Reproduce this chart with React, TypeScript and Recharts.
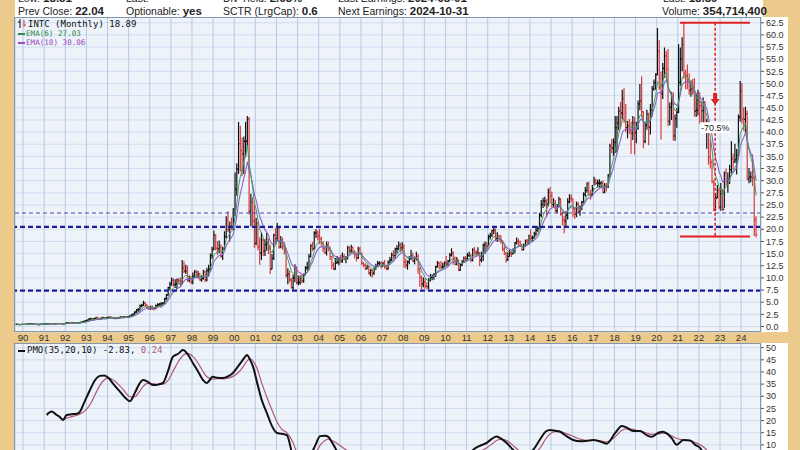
import React from "react";
import {
  ComposedChart,
  Bar,
  Line,
  XAxis,
  YAxis,
  CartesianGrid,
  ReferenceLine,
  ReferenceDot,
} from "recharts";

// monthly bars, Sep 1989 .. Sep 2024 (dividend adjusted)
const START_YEAR = 1989;
const START_MONTH = 9;

const closes = [
  0.44, 0.40, 0.41, 0.43,
  0.42, 0.44, 0.48, 0.52, 0.56, 0.58, 0.54, 0.44, 0.40, 0.43, 0.45, 0.47,
  0.52, 0.56, 0.58, 0.60, 0.57, 0.53, 0.57, 0.62, 0.60, 0.57, 0.55, 0.62,
  0.72, 0.78, 0.74, 0.70, 0.78, 0.80, 0.76, 0.80, 0.84, 0.92, 1.04, 1.20,
  1.30, 1.55, 1.60, 1.58, 1.62, 1.85, 1.60, 1.55, 1.72, 1.80, 1.72, 1.76,
  1.86, 1.90, 1.82, 1.68, 1.80, 1.68, 1.84, 1.96, 1.92, 1.98, 1.92, 2.02,
  2.10, 2.30, 2.55, 2.95, 3.40, 3.45, 4.20, 4.35, 4.80, 4.40, 3.95, 3.80,
  3.90, 3.80, 3.70, 4.30, 4.50, 4.60, 4.70, 4.80, 5.70, 6.50, 8.00, 8.70,
  9.50, 8.60, 8.70, 9.60, 9.40, 8.80, 12.0, 11.4, 11.5, 9.60, 9.70, 9.20,
  10.3, 11.2, 10.4, 10.8, 9.60, 9.90, 11.3, 9.60, 11.5, 11.8, 14.6, 15.9,
  18.8, 16.1, 16.0, 16.3, 14.5, 16.0, 18.5, 22.0, 19.9, 20.7, 20.5, 22.0,
  28.2, 32.4, 37.6, 36.2, 35.5, 38.1, 38.1, 42.7, 23.7, 25.6, 21.7, 17.1,
  21.3, 16.4, 15.1, 17.8, 15.5, 16.8, 17.1, 16.1, 11.8, 14.0, 18.8, 18.1,
  20.2, 16.4, 17.5, 16.5, 15.9, 10.5, 10.8, 9.60, 8.00, 10.0, 12.0, 9.00,
  9.10, 10.0, 9.40, 10.7, 12.1, 12.1, 14.4, 16.6, 16.0, 19.2, 19.4, 18.6,
  18.0, 17.2, 16.0, 15.2, 16.8, 16.3, 14.4, 12.6, 11.8, 13.1, 13.2, 13.8,
  13.5, 14.4, 13.9, 14.1, 16.2, 15.6, 16.3, 15.4, 14.8, 14.1, 16.0, 15.0,
  13.0, 12.6, 11.9, 12.2, 11.0, 11.6, 11.0, 11.9, 12.5, 13.0, 13.0, 12.4,
  13.0, 12.3, 11.9, 13.3, 13.7, 14.7, 14.6, 16.0, 16.0, 16.7, 16.2, 16.5,
  13.3, 12.6, 13.3, 14.0, 14.6, 13.5, 14.0, 14.4, 11.8, 10.1, 8.70, 9.20,
  8.30, 8.20, 9.60, 10.1, 10.1, 10.6, 12.3, 13.0, 12.5, 12.2, 12.3, 13.1,
  12.8, 13.5, 14.7, 15.1, 14.1, 12.8, 13.6, 11.6, 12.7, 13.2, 14.0, 13.9,
  14.6, 14.6, 13.7, 15.8, 15.3, 15.1, 15.2, 13.7, 14.5, 16.7, 16.9, 16.5,
  18.5, 18.8, 19.7, 19.9, 18.1, 18.7, 18.0, 17.4, 15.9, 15.1, 13.7, 14.4,
  15.1, 15.0, 15.7, 17.2, 17.5, 17.4, 16.8, 15.8, 16.5, 17.6, 17.2, 18.7,
  18.2, 18.3, 19.1, 19.8, 20.2, 22.9, 25.1, 25.8, 25.8, 25.2, 27.6, 26.9,
  25.1, 25.3, 23.8, 24.7, 26.2, 23.1, 22.0, 21.7, 22.9, 25.7, 26.4, 26.2,
  24.2, 23.1, 25.2, 23.6, 24.6, 25.6, 27.2, 28.0, 29.4, 27.2, 27.1, 28.3,
  30.0, 29.5, 29.5, 29.5, 29.5, 27.6, 29.0, 28.7, 31.2, 37.2, 36.7, 37.9,
  40.9, 41.9, 44.3, 43.9, 46.9, 42.3, 40.9, 41.2, 40.2, 39.8, 41.9, 39.9,
  40.8, 45.8, 46.4, 44.2, 38.1, 41.4, 43.7, 41.0, 44.6, 48.9, 50.2, 51.8,
  56.6, 49.1, 47.9, 53.1, 55.7, 52.9, 42.2, 45.1, 45.8, 39.2, 42.8, 44.1,
  50.2, 55.0, 57.9, 52.1, 51.7, 50.8, 48.6, 48.9, 48.2, 44.3, 44.5, 46.6,
  45.4, 44.4, 46.1, 40.5, 41.3, 34.8, 33.8, 29.7, 24.0, 26.4, 28.0, 24.6,
  27.3, 24.1, 31.5, 30.0, 30.3, 32.3, 34.5, 33.9, 34.3, 35.2, 43.1, 48.5,
  42.7, 42.6, 43.8, 30.3, 30.7, 30.8, 30.6, 22.0, 18.9,
];

const highs = [
  0.47, 0.45, 0.43, 0.45,
  0.45, 0.46, 0.50, 0.54, 0.58, 0.61, 0.60, 0.55, 0.46, 0.45, 0.48, 0.50,
  0.54, 0.59, 0.61, 0.63, 0.62, 0.58, 0.59, 0.64, 0.64, 0.62, 0.59, 0.64,
  0.75, 0.81, 0.80, 0.76, 0.80, 0.84, 0.81, 0.82, 0.87, 0.95, 1.07, 1.24,
  1.35, 1.60, 1.70, 1.65, 1.70, 1.92, 1.88, 1.70, 1.80, 1.90, 1.85, 1.82,
  1.95, 1.98, 1.94, 1.85, 1.86, 1.85, 1.88, 2.02, 2.05, 2.05, 2.02, 2.08,
  2.20, 2.40, 2.60, 3.05, 3.50, 3.70, 4.40, 4.60, 5.20, 4.95, 4.50, 4.10,
  4.20, 4.20, 3.95, 4.45, 4.70, 4.75, 4.90, 4.95, 5.80, 6.60, 8.10, 9.10,
  10.0, 9.80, 9.60, 9.80, 9.90, 10.0, 13.6, 13.3, 12.6, 12.4, 10.4, 10.3,
  11.0, 11.5, 11.6, 11.3, 10.9, 10.4, 11.6, 11.4, 12.0, 12.6, 14.9, 16.3,
  19.6, 18.9, 17.5, 17.6, 16.8, 16.3, 19.5, 22.6, 23.6, 21.5, 22.3, 24.3,
  31.6, 33.5, 42.0, 41.2, 38.8, 39.0, 42.0, 43.2, 43.0, 27.2, 26.5, 25.2,
  22.2, 21.4, 18.2, 19.3, 18.0, 17.8, 19.2, 18.0, 16.6, 14.8, 19.0, 20.1,
  21.2, 20.3, 18.5, 18.2, 17.3, 16.0, 11.9, 11.4, 9.90, 10.6, 12.7, 12.3,
  10.4, 10.4, 10.5, 10.8, 12.3, 13.2, 14.8, 16.8, 17.3, 19.5, 19.9, 19.6,
  20.0, 18.4, 17.5, 16.4, 17.4, 17.4, 16.3, 14.4, 13.1, 14.0, 14.4, 14.2,
  14.6, 15.1, 14.8, 14.4, 16.5, 16.4, 16.7, 16.3, 15.6, 15.1, 16.3, 16.3,
  15.2, 13.2, 12.9, 12.6, 12.4, 11.7, 11.6, 12.1, 12.8, 13.4, 13.3, 13.3,
  13.2, 13.6, 12.6, 13.5, 14.2, 15.1, 15.6, 16.1, 16.6, 17.4, 17.1, 17.3,
  16.8, 13.9, 13.5, 14.4, 15.7, 15.1, 14.3, 15.3, 14.8, 12.1, 10.4, 10.0,
  9.80, 9.00, 9.90, 10.7, 10.6, 10.9, 12.4, 13.4, 13.2, 13.4, 13.0, 13.3,
  14.4, 13.6, 15.0, 16.0, 15.4, 14.3, 14.2, 13.7, 12.9, 13.6, 14.3, 14.4,
  15.0, 15.3, 14.8, 16.0, 16.3, 15.6, 16.2, 15.2, 15.3, 17.0, 17.4, 17.3,
  18.8, 19.2, 19.8, 20.3, 20.0, 19.3, 18.8, 18.7, 17.7, 16.4, 15.3, 15.2,
  15.7, 15.4, 16.0, 17.3, 18.2, 18.0, 17.6, 16.8, 17.0, 17.8, 17.9, 18.8,
  19.8, 18.6, 19.4, 20.2, 20.5, 23.3, 25.9, 26.4, 26.6, 26.1, 28.3, 28.6,
  27.6, 26.3, 25.9, 25.1, 26.6, 26.3, 23.5, 22.7, 23.6, 26.3, 27.1, 27.1,
  26.3, 24.3, 25.6, 25.5, 24.8, 25.7, 27.5, 28.6, 29.6, 29.7, 28.0, 29.0,
  30.7, 30.3, 30.1, 30.2, 29.8, 30.0, 29.4, 29.4, 31.3, 37.5, 38.4, 38.6,
  43.2, 43.2, 45.1, 46.1, 48.6, 49.0, 45.7, 42.2, 42.6, 42.1, 43.2, 43.0,
  42.0, 46.4, 49.8, 51.4, 44.2, 42.1, 44.5, 43.9, 45.7, 49.4, 50.7, 52.0,
  61.3, 58.8, 52.3, 54.1, 57.3, 56.6, 57.0, 46.0, 48.2, 48.1, 43.5, 44.8,
  58.0, 57.3, 59.4, 62.4, 52.7, 53.8, 52.0, 50.5, 50.8, 51.0, 47.9, 48.6,
  48.1, 46.3, 47.0, 46.3, 42.6, 42.1, 38.4, 34.3, 30.1, 27.3, 29.0, 28.4,
  29.4, 28.2, 31.8, 32.4, 31.6, 33.2, 38.0, 35.5, 37.5, 36.4, 43.5, 50.4,
  50.0, 45.0, 45.1, 44.3, 32.5, 31.8, 35.3, 30.9, 22.6,
];

const lows = [
  0.42, 0.38, 0.38, 0.40,
  0.39, 0.41, 0.43, 0.47, 0.51, 0.55, 0.52, 0.42, 0.37, 0.38, 0.42, 0.44,
  0.46, 0.51, 0.54, 0.56, 0.54, 0.51, 0.52, 0.56, 0.57, 0.54, 0.51, 0.53,
  0.61, 0.71, 0.72, 0.68, 0.69, 0.76, 0.72, 0.74, 0.78, 0.82, 0.90, 1.02,
  1.15, 1.28, 1.48, 1.45, 1.52, 1.60, 1.50, 1.45, 1.50, 1.65, 1.62, 1.64,
  1.72, 1.80, 1.72, 1.62, 1.62, 1.62, 1.64, 1.80, 1.80, 1.82, 1.84, 1.86,
  1.95, 2.05, 2.25, 2.50, 2.90, 3.10, 3.40, 4.00, 4.30, 4.10, 3.80, 3.50,
  3.50, 3.50, 3.40, 3.65, 4.20, 4.30, 4.00, 4.40, 4.70, 5.50, 6.40, 7.50,
  8.50, 8.30, 8.00, 7.80, 8.90, 8.40, 8.80, 11.1, 10.9, 9.30, 9.20, 8.80,
  8.80, 10.1, 10.1, 10.0, 9.50, 9.30, 9.70, 9.20, 9.40, 10.4, 11.6, 14.0,
  15.8, 15.8, 14.8, 15.2, 14.2, 13.8, 15.9, 18.2, 19.5, 17.6, 20.0, 19.9,
  22.8, 27.0, 31.5, 32.0, 31.0, 31.5, 35.0, 36.8, 23.2, 20.7, 20.5, 16.3,
  16.8, 15.8, 12.8, 13.8, 14.6, 14.6, 15.7, 15.0, 10.9, 11.9, 13.8, 17.0,
  17.6, 16.1, 16.2, 15.9, 14.9, 10.2, 8.80, 9.20, 7.90, 7.50, 9.20, 8.80,
  8.60, 8.70, 9.00, 9.10, 10.6, 11.6, 11.8, 14.3, 15.6, 16.0, 18.3, 17.8,
  17.1, 16.7, 15.4, 15.0, 14.7, 15.6, 13.8, 11.9, 11.7, 11.8, 13.0, 12.7,
  13.1, 13.2, 13.7, 13.1, 13.9, 15.2, 15.2, 15.2, 14.1, 13.5, 14.0, 14.8,
  12.7, 12.3, 11.8, 11.9, 10.8, 10.4, 10.2, 10.7, 11.8, 12.3, 12.5, 12.0,
  12.4, 12.0, 11.7, 11.8, 13.1, 13.6, 13.9, 14.1, 15.2, 15.8, 15.4, 15.6,
  12.2, 12.1, 11.8, 12.9, 13.8, 13.4, 12.9, 13.7, 10.9, 8.30, 7.80, 8.20,
  7.90, 7.70, 7.70, 9.40, 9.60, 9.70, 10.3, 12.2, 12.0, 12.0, 11.9, 12.3,
  12.5, 12.6, 13.4, 14.5, 12.8, 12.8, 12.7, 11.5, 11.6, 12.5, 13.2, 13.6,
  13.6, 14.4, 13.3, 13.5, 14.9, 14.4, 14.9, 12.5, 13.3, 13.6, 15.0, 15.7,
  16.7, 18.0, 18.5, 19.1, 17.8, 17.5, 17.6, 17.2, 15.6, 14.8, 13.2, 13.6,
  14.5, 14.4, 14.9, 15.2, 17.0, 16.8, 16.7, 15.7, 15.8, 16.5, 16.9, 17.0,
  17.7, 17.6, 18.2, 18.7, 19.6, 20.1, 22.6, 24.5, 24.8, 22.6, 24.8, 25.8,
  24.6, 24.5, 23.7, 23.4, 24.6, 22.9, 20.9, 19.3, 20.8, 22.1, 25.4, 25.6,
  22.7, 22.2, 22.6, 23.4, 22.9, 24.0, 25.3, 26.8, 27.6, 26.9, 26.2, 27.0,
  29.1, 29.2, 28.7, 28.7, 28.6, 27.5, 27.5, 27.9, 28.6, 30.8, 35.8, 35.2,
  35.8, 35.9, 40.5, 40.9, 42.8, 42.0, 40.0, 38.8, 39.7, 35.6, 38.5, 35.5,
  37.8, 40.6, 44.6, 43.2, 36.8, 37.8, 40.6, 37.4, 39.6, 43.3, 48.6, 48.8,
  51.8, 48.8, 38.6, 46.9, 51.3, 51.0, 41.3, 41.5, 42.6, 38.3, 38.3, 41.0,
  44.0, 49.6, 52.6, 51.1, 48.9, 48.9, 47.8, 47.4, 47.8, 43.3, 43.2, 43.5,
  41.8, 41.1, 41.0, 39.9, 36.7, 33.4, 32.6, 29.6, 23.8, 23.9, 26.5, 24.2,
  23.9, 23.9, 24.5, 29.0, 27.6, 29.4, 31.7, 32.3, 33.7, 31.4, 34.7, 42.3,
  41.8, 40.4, 40.0, 30.3, 29.6, 29.8, 29.0, 18.7, 18.4,
];

const yearTicks = [
  1990, 1991, 1992, 1993, 1994, 1995, 1996, 1997, 1998, 1999, 2000, 2001,
  2002, 2003, 2004, 2005, 2006, 2007, 2008, 2009, 2010, 2011, 2012, 2013,
  2014, 2015, 2016, 2017, 2018, 2019, 2020, 2021, 2022, 2023, 2024,
];

const priceTicks = [
  0, 2.5, 5, 7.5, 10, 12.5, 15, 17.5, 20, 22.5, 25, 27.5, 30, 32.5, 35,
  37.5, 40, 42.5, 45, 47.5, 50, 52.5, 55, 57.5, 60, 62.5,
];

// only the part of the PMO scale that is on screen
const pmoTicks = [10, 15, 20, 25, 30, 35, 40, 45, 50];

// PMO(35,20,10)
const pmoDates = [
  1991.12, 1991.35, 1991.59, 1991.75, 1991.9, 1992.06, 1992.3, 1992.55, 1992.7, 1992.9,
  1993.17, 1993.4, 1993.64, 1993.85, 1994.05, 1994.3, 1994.59, 1994.85, 1995.06, 1995.3,
  1995.5, 1995.68, 1995.9, 1996.15, 1996.4, 1996.63, 1996.85, 1997.1, 1997.35, 1997.57,
  1997.8, 1998.04, 1998.3, 1998.5, 1998.7, 1998.99, 1999.2, 1999.46, 1999.7, 1999.94,
  2000.2, 2000.45, 2000.6, 2000.75, 2000.89, 2001.1, 2001.3, 2001.55, 2001.8, 2002.02,
  2002.25, 2002.49, 2002.78, 2003.0, 2003.3, 2003.6, 2003.85, 2004.06, 2004.3, 2004.45,
  2004.68, 2004.9, 2005.2, 2005.5, 2005.8, 2006.2, 2006.6, 2007.0, 2007.5, 2008.0,
  2008.5, 2009.0, 2009.5, 2010.0, 2010.5, 2011.0, 2011.32, 2011.6, 2011.95, 2012.2,
  2012.42, 2012.65, 2012.9, 2013.2, 2013.5, 2013.8, 2014.16, 2014.5, 2014.75, 2014.95,
  2015.2, 2015.43, 2015.75, 2016.05, 2016.4, 2016.69, 2017.0, 2017.32, 2017.63, 2018.03,
  2018.35, 2018.58, 2018.89, 2019.21, 2019.53, 2019.76, 2020.08, 2020.3, 2020.48, 2020.71,
  2020.95, 2021.26, 2021.58, 2021.82, 2022.06, 2022.3, 2022.6, 2022.9, 2023.2, 2023.5,
  2023.9, 2024.2, 2024.5, 2024.71,
];

const pmoValues = [
  22.3, 23.7, 22.3, 21.4, 20.2, 22.3, 22.6, 22.8, 23.7, 27.5,
  32.6, 36.5, 38.4, 38.6, 37.5, 34.8, 31.9, 29.3, 28.0, 31.5,
  35.0, 36.7, 36.0, 34.6, 34.8, 35.5, 40.0, 46.3, 47.5, 49.0,
  47.2, 43.7, 40.0, 37.0, 35.5, 38.0, 37.6, 37.5, 38.2, 39.6,
  42.5, 45.5, 47.0, 45.0, 42.2, 35.0, 28.5, 23.0, 17.5, 14.9,
  14.6, 14.0, 5.0, 0.0, 1.0, 5.5, 10.0, 13.6, 13.8, 13.3,
  10.3, 7.0, 5.0, 6.5, 5.0, 1.0, -2.0, 1.0, 4.0, 3.0,
  -3.0, -10.0, -6.0, 3.0, 4.0, 4.5, 8.0, 9.5, 10.8, 12.5,
  13.4, 12.5, 10.8, 8.0, 6.0, 5.5, 8.0, 12.5, 15.5, 16.1,
  15.8, 15.4, 13.5, 12.0, 11.5, 11.7, 12.0, 11.4, 10.5, 14.8,
  17.8, 17.1, 15.7, 15.7, 14.0, 13.3, 15.0, 15.4, 14.7, 12.8,
  10.0, 12.0, 11.8, 10.0, 8.7, 5.0, 0.0, -4.0, -5.0, -2.0,
  3.0, 4.0, 1.0, -2.83,
];

const pmoSignal = [
  null, null, null, null, 20.6, 21.0, 21.6, 22.2, 22.7, 23.8,
  26.5, 30.5, 34.5, 36.8, 37.6, 36.5, 34.3, 31.6, 29.8, 29.8,
  31.8, 34.0, 35.3, 35.2, 34.9, 35.0, 36.3, 40.2, 44.2, 46.8,
  47.7, 46.4, 43.5, 40.5, 38.0, 37.0, 37.3, 37.2, 37.5, 38.2,
  39.8, 42.5, 44.5, 45.5, 44.5, 41.0, 35.5, 29.5, 24.0, 19.5,
  16.4, 15.0, 11.0, 6.0, 2.5, 3.5, 6.5, 9.8, 11.8, 12.3,
  11.6, 10.4, 8.5, 7.0, 6.0, 4.0, 0.5, 0.0, 2.0, 3.5,
  0.5, -5.0, -7.0, -1.0, 2.5, 3.8, 5.8, 7.0, 8.8, 10.3,
  11.8, 12.3, 11.8, 9.8, 7.5, 6.2, 6.5, 9.0, 12.5, 14.5,
  15.4, 15.4, 14.5, 13.5, 12.3, 11.8, 11.8, 11.7, 11.2, 13.3,
  16.0, 16.6, 16.4, 15.6, 14.9, 14.3, 14.5, 14.8, 14.6, 13.7,
  12.6, 12.1, 11.8, 11.0, 10.0, 8.5, 5.0, 0.5, -3.0, -3.0,
  -0.5, 2.0, 2.0, 0.24,
];

const X_DOMAIN = [1989.62, 2024.94];

function ema(values: number[], n: number) {
  const k = 2 / (n + 1);
  let prev = values[0];
  return values.map((v, i) => {
    if (i > 0) prev = prev + k * (v - prev);
    return prev;
  });
}

const ema6 = ema(closes, 6);
const ema10 = ema(closes, 10);

const priceData = closes.map((close, i) => {
  const m = START_MONTH - 1 + i;
  const year = START_YEAR + Math.floor(m / 12);
  const open = i > 0 ? closes[i - 1] : close;
  return {
    t: year + ((m % 12) + 0.5) / 12,
    range: [lows[i], highs[i]],
    high: highs[i],
    low: lows[i],
    open,
    close,
    up: close >= open,
    ema6: ema6[i],
    ema10: ema10[i],
  };
});

const pmoData = pmoDates.map((t, i) => ({ t, pmo: pmoValues[i], sig: pmoSignal[i] }));

const TAN = "#ecca8c";
const PLOT_BG = "#eef3fa";
const MONO = "'DejaVu Sans Mono', monospace";
const SANS = "'Liberation Sans', Arial, sans-serif";

const OhlcBar = (props: any) => {
  const { x, y, width, height, payload } = props;
  if (x == null || y == null || !payload) return null;
  const cx = x + width / 2;
  const top = Math.min(y, y + height);
  const bot = Math.max(y, y + height);
  const span = payload.high - payload.low || 1;
  const px = (v: number) => top + ((payload.high - v) / span) * (bot - top);
  const color = payload.up ? "#111111" : "#d63c3c";
  return (
    <g stroke={color} strokeWidth={1.2}>
      <line x1={cx} x2={cx} y1={top - 0.5} y2={bot + 0.5} />
      <line x1={cx - 1.3} x2={cx} y1={px(payload.open)} y2={px(payload.open)} />
      <line x1={cx} x2={cx + 1.3} y1={px(payload.close)} y2={px(payload.close)} />
    </g>
  );
};

const DownArrow = (props: any) => {
  const { cx, cy } = props;
  if (cx == null) return null;
  return (
    <path
      d={`M${cx - 2} ${cy - 7} L${cx + 2} ${cy - 7} L${cx + 2} ${cy - 1} L${cx + 4.5} ${cy - 1} L${cx} ${cy + 5} L${cx - 4.5} ${cy - 1} L${cx - 2} ${cy - 1} Z`}
      fill="#e02020"
    />
  );
};

const DropLabel = (props: any) => {
  const { cx, cy } = props;
  if (cx == null) return null;
  return (
    <g>
      <rect x={cx - 15} y={cy - 6} width={30} height={11} fill="#ffffff" />
      <text x={cx} y={cy + 3} textAnchor="middle" fontSize={9} fontFamily={SANS} fill="#222">
        -70.5%
      </text>
    </g>
  );
};

const rightTick = { fontSize: 9, fill: "#333", fontFamily: SANS };

function HeaderItem({ left, top, label, value }: { left: number; top: number; label: string; value?: string }) {
  return (
    <div style={{ position: "absolute", left, top, fontFamily: SANS, fontSize: 10.5, color: "#222", whiteSpace: "nowrap", lineHeight: "12px" }}>
      {label}
      {value ? <b style={{ fontSize: 11.5 }}>{value}</b> : null}
    </div>
  );
}

export default function App() {
  return (
    <div style={{ position: "fixed", left: 0, top: 0, width: 800, height: 450, overflow: "hidden", background: TAN }}>
      {/* header, first row is cut off at the top edge as in the source */}
      <div style={{ position: "absolute", left: 15, top: 0, width: 748, height: 17, background: "#fff" }} />
      <HeaderItem left={18} top={-8} label="Low: " value="18.51" />
      <HeaderItem left={126} top={-8} label="Last: " />
      <HeaderItem left={223} top={-8} label="Div Yield: " value="2.65%" />
      <HeaderItem left={338} top={-8} label="Last Earnings: " value="2024-08-01" />
      <HeaderItem left={663} top={-8} label="Last: " value="      18.89" />
      <HeaderItem left={18} top={5} label="Prev Close: " value="22.04" />
      <HeaderItem left={126} top={5} label="Optionable: " value="yes" />
      <HeaderItem left={223} top={5} label="SCTR (LrgCap): " value="0.6" />
      <HeaderItem left={338} top={5} label="Next Earnings: " value="2024-10-31" />
      <HeaderItem left={662} top={5} label="Volume: " value="354,714,400" />

      {/* white label strips on the right */}
      <div style={{ position: "absolute", left: 761, top: 17, width: 27, height: 315, background: "#fff" }} />
      <div style={{ position: "absolute", left: 761, top: 343, width: 27, height: 107, background: "#fff" }} />

      <div style={{ position: "absolute", left: 0, top: 17 }}>
        <ComposedChart width={800} height={326} data={priceData} margin={{ top: 0, right: 0, bottom: 0, left: 15 }}>
          <CartesianGrid vertical={false} stroke="#cfddef" fill={PLOT_BG} />
          <CartesianGrid horizontal={false} stroke="#b3cbe6" />
          <XAxis
            type="number"
            dataKey="t"
            domain={X_DOMAIN}
            allowDataOverflow
            ticks={yearTicks}
            interval={0}
            height={11}
            axisLine={false}
            tickLine={false}
            tickSize={0}
            tickMargin={2}
            tick={{ fontSize: 9.5, fill: "#333", fontFamily: SANS }}
            tickFormatter={(v: number) => String(v % 100).padStart(2, "0")}
          />
          <YAxis
            orientation="right"
            type="number"
            domain={[-1.13, 63.68]}
            allowDataOverflow
            ticks={priceTicks}
            interval={0}
            width={39}
            axisLine={false}
            tickSize={3}
            tickMargin={2}
            tickLine={{ stroke: "#555" }}
            tick={rightTick}
            tickFormatter={(v: number) => v.toFixed(1)}
          />
          <Bar dataKey="range" barSize={2} shape={<OhlcBar />} isAnimationActive={false} />
          <Line dataKey="ema10" type="linear" stroke="#8d5fc9" strokeWidth={1.1} dot={false} isAnimationActive={false} />
          <Line dataKey="ema6" type="linear" stroke="#3f9d5c" strokeWidth={1} dot={false} isAnimationActive={false} />
          <ReferenceLine y={23.35} stroke="#4d4da8" strokeWidth={1.2} strokeDasharray="4 3" />
          <ReferenceLine y={20.5} stroke="#1c1ca0" strokeWidth={2.2} strokeDasharray="5 3" />
          <ReferenceLine y={7.4} stroke="#1c1ca0" strokeWidth={2.2} strokeDasharray="5 3" />
          <ReferenceLine segment={[{ x: 2021.1, y: 62.5 }, { x: 2024.42, y: 62.5 }]} stroke="#e02020" strokeWidth={2} />
          <ReferenceLine segment={[{ x: 2021.1, y: 18.5 }, { x: 2024.42, y: 18.5 }]} stroke="#e02020" strokeWidth={2} />
          <ReferenceLine segment={[{ x: 2022.77, y: 62.5 }, { x: 2022.77, y: 18.5 }]} stroke="#e02020" strokeWidth={1.5} strokeDasharray="3 2" />
          <ReferenceDot x={2022.77} y={46.6} r={1} shape={<DownArrow />} />
          <ReferenceDot x={2022.77} y={40.8} r={1} shape={<DropLabel />} />
        </ComposedChart>
      </div>

      {/* plot borders */}
      <div style={{ position: "absolute", left: 14, top: 17, width: 747, height: 315, border: "1px solid #8696ad", boxSizing: "border-box", pointerEvents: "none" }} />

      {/* price legend */}
      <div style={{ position: "absolute", left: 18, top: 19, fontFamily: MONO, fontSize: 9, lineHeight: "10px", color: "#111", whiteSpace: "nowrap" }}>
        <svg width={8} height={9} style={{ verticalAlign: "-1px", marginRight: 2 }}>
          <line x1={2} x2={2} y1={0} y2={9} stroke="#111" strokeWidth={1} />
          <line x1={0} x2={2} y1={3} y2={3} stroke="#111" />
          <line x1={6} x2={6} y1={1} y2={8} stroke="#d63c3c" strokeWidth={1} />
          <line x1={6} x2={8} y1={6} y2={6} stroke="#d63c3c" />
        </svg>
        INTC (Monthly) 18.89
      </div>
      <div style={{ position: "absolute", left: 18, top: 29, fontFamily: MONO, fontSize: 7.6, lineHeight: "10px", color: "#2e8a45", whiteSpace: "nowrap" }}>
        <span style={{ display: "inline-block", width: 7, height: 2, background: "#2e8a45", verticalAlign: "middle", marginRight: 1 }} />
        EMA(6) 27.03
      </div>
      <div style={{ position: "absolute", left: 18, top: 38, fontFamily: MONO, fontSize: 7.6, lineHeight: "10px", color: "#a048c0", whiteSpace: "nowrap" }}>
        <span style={{ display: "inline-block", width: 7, height: 2, background: "#a048c0", verticalAlign: "middle", marginRight: 1 }} />
        EMA(10) 30.06
      </div>

      {/* PMO panel, runs past the bottom edge like the source */}
      <div style={{ position: "absolute", left: 0, top: 343 }}>
        <ComposedChart width={800} height={200} data={pmoData} margin={{ top: 0, right: 0, bottom: 0, left: 15 }}>
          <CartesianGrid vertical={false} stroke="#cfddef" fill={PLOT_BG} />
          <CartesianGrid horizontal={false} stroke="#b3cbe6" />
          <XAxis type="number" dataKey="t" domain={X_DOMAIN} allowDataOverflow ticks={yearTicks} interval={0} hide />
          <YAxis
            orientation="right"
            type="number"
            domain={[-30.4, 51.93]}
            allowDataOverflow
            ticks={pmoTicks}
            interval={0}
            width={39}
            axisLine={false}
            tickSize={3}
            tickMargin={2}
            tickLine={{ stroke: "#555" }}
            tick={rightTick}
          />
          <Line dataKey="sig" type="monotone" stroke="#b0587a" strokeWidth={1.2} dot={false} isAnimationActive={false} />
          <Line dataKey="pmo" type="monotone" stroke="#111111" strokeWidth={2} dot={false} isAnimationActive={false} />
        </ComposedChart>
      </div>
      <div style={{ position: "absolute", left: 14, top: 343, width: 747, height: 120, border: "1px solid #8696ad", boxSizing: "border-box", pointerEvents: "none" }} />
      <div style={{ position: "absolute", left: 18, top: 345, fontFamily: MONO, fontSize: 9, lineHeight: "10px", color: "#111", whiteSpace: "nowrap" }}>
        <span style={{ display: "inline-block", width: 7, height: 2, background: "#111", verticalAlign: "middle", marginRight: 2 }} />
        PMO(35,20,10) -2.83, <span style={{ color: "#b0587a" }}>0.24</span>
      </div>
    </div>
  );
}
